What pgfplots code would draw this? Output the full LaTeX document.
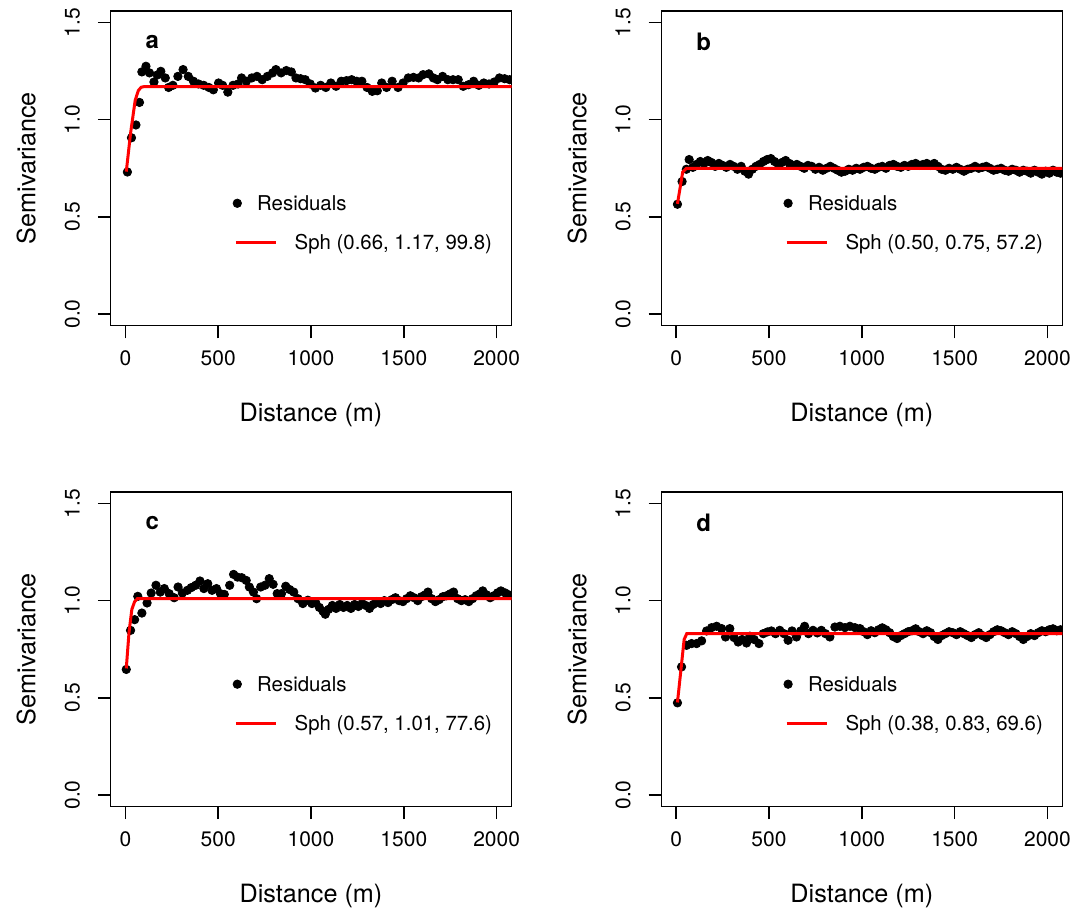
\documentclass[border=0pt]{standalone}
\usepackage{pgfplots}
\pgfplotsset{compat=1.18}
\usepackage{fontspec}
\setmainfont{TeX Gyre Heros}

% residual semivariances, one table per panel
\pgfplotstableread{
x y
11 0.731
33 0.907
57 0.973
76 1.089
89 1.246
111 1.275
130 1.241
154 1.194
172 1.230
191 1.249
215 1.215
233 1.166
256 1.177
283 1.223
311 1.258
339 1.223
367 1.198
394 1.184
422 1.177
450 1.166
474 1.154
502 1.189
524 1.177
552 1.142
580 1.177
607 1.184
626 1.215
652 1.198
681 1.215
709 1.223
737 1.206
765 1.223
793 1.241
811 1.258
839 1.241
867 1.253
894 1.246
919 1.215
944 1.211
969 1.206
996 1.184
1024 1.163
1052 1.177
1080 1.166
1107 1.189
1135 1.172
1163 1.198
1191 1.201
1219 1.206
1246 1.198
1274 1.198
1302 1.166
1330 1.146
1357 1.149
1381 1.189
1407 1.166
1437 1.198
1469 1.166
1496 1.189
1524 1.215
1552 1.218
1580 1.215
1604 1.232
1635 1.236
1659 1.215
1681 1.206
1709 1.223
1737 1.206
1765 1.206
1793 1.206
1820 1.172
1848 1.180
1876 1.198
1904 1.177
1931 1.189
1959 1.184
1987 1.194
2015 1.215
2043 1.211
2070 1.206
}\resa

\pgfplotstableread{
x y
7 0.565
32 0.682
55 0.745
70 0.795
90 0.755
110 0.770
130 0.785
150 0.775
170 0.790
190 0.780
210 0.760
230 0.775
250 0.765
270 0.755
290 0.770
310 0.760
330 0.745
350 0.760
370 0.735
390 0.720
410 0.745
430 0.760
450 0.770
470 0.785
490 0.795
510 0.800
530 0.785
550 0.770
570 0.780
590 0.790
610 0.775
630 0.765
650 0.770
670 0.760
690 0.750
710 0.765
730 0.760
750 0.745
770 0.755
790 0.740
810 0.750
830 0.760
850 0.750
870 0.740
890 0.730
910 0.735
930 0.745
950 0.740
970 0.750
990 0.745
1010 0.755
1030 0.760
1050 0.750
1070 0.745
1090 0.755
1110 0.760
1130 0.750
1150 0.765
1170 0.770
1190 0.760
1210 0.755
1230 0.765
1250 0.760
1270 0.770
1290 0.775
1310 0.765
1330 0.770
1350 0.775
1370 0.765
1390 0.775
1410 0.760
1430 0.745
1450 0.740
1470 0.750
1490 0.745
1510 0.755
1530 0.745
1550 0.735
1570 0.745
1590 0.750
1610 0.760
1630 0.750
1650 0.755
1670 0.760
1690 0.750
1710 0.740
1730 0.745
1750 0.750
1770 0.740
1790 0.735
1810 0.745
1830 0.740
1850 0.730
1870 0.740
1890 0.735
1910 0.725
1930 0.740
1950 0.730
1970 0.720
1990 0.735
2010 0.725
2030 0.740
2050 0.730
2070 0.725
}\resb

\pgfplotstableread{
x y
5 0.646
28 0.847
50 0.902
67 1.022
89 0.936
117 0.988
139 1.039
165 1.079
188 1.044
210 1.062
236 1.036
263 1.015
284 1.070
307 1.039
334 1.053
355 1.067
379 1.079
402 1.101
423 1.062
444 1.087
467 1.053
491 1.062
512 1.036
533 1.032
562 1.079
583 1.135
604 1.121
627 1.118
651 1.104
668 1.070
690 1.044
707 1.010
729 1.070
752 1.079
775 1.113
796 1.084
818 1.036
841 1.036
864 1.074
885 1.057
907 1.044
930 1.010
956 0.985
983 1.002
1005 0.985
1025 0.990
1045 0.965
1065 0.945
1077 0.930
1095 0.955
1115 0.975
1135 0.960
1155 0.980
1175 0.965
1195 0.975
1215 0.960
1235 0.980
1255 0.970
1275 0.985
1295 0.975
1315 0.960
1335 0.980
1355 0.995
1375 0.985
1395 1.000
1415 0.990
1435 1.005
1455 1.015
1475 1.000
1495 0.995
1515 1.010
1535 1.025
1555 1.015
1575 1.000
1595 1.020
1615 1.030
1630 1.044
1650 1.010
1670 0.995
1690 1.005
1710 1.020
1730 1.025
1750 1.035
1768 1.044
1790 1.010
1810 1.000
1830 1.005
1850 0.995
1870 1.010
1890 1.025
1910 1.035
1925 1.050
1945 1.030
1965 1.015
1985 1.025
2005 1.040
2023 1.050
2045 1.040
2065 1.030
}\resc

\pgfplotstableread{
x y
7 0.474
29 0.659
56 0.770
83 0.779
110 0.779
137 0.793
164 0.844
191 0.861
218 0.868
245 0.856
266 0.813
289 0.856
312 0.810
334 0.787
355 0.800
379 0.782
397 0.817
420 0.800
446 0.779
469 0.830
492 0.839
513 0.844
535 0.830
558 0.847
581 0.830
603 0.796
624 0.844
648 0.813
671 0.844
692 0.868
713 0.830
737 0.847
760 0.834
782 0.847
804 0.830
828 0.813
855 0.864
882 0.868
909 0.861
936 0.868
963 0.861
990 0.856
1010 0.840
1030 0.825
1050 0.845
1070 0.835
1090 0.850
1110 0.860
1130 0.850
1150 0.835
1170 0.815
1190 0.805
1210 0.820
1230 0.830
1250 0.840
1270 0.845
1290 0.855
1310 0.840
1330 0.830
1350 0.845
1370 0.835
1390 0.815
1410 0.800
1430 0.820
1450 0.830
1470 0.840
1490 0.835
1510 0.825
1530 0.840
1550 0.830
1570 0.820
1590 0.810
1610 0.825
1630 0.835
1650 0.820
1670 0.810
1690 0.825
1710 0.840
1730 0.850
1750 0.845
1770 0.835
1790 0.825
1810 0.840
1830 0.830
1850 0.815
1870 0.800
1890 0.815
1910 0.830
1930 0.820
1950 0.835
1970 0.845
1990 0.840
2010 0.850
2030 0.855
2050 0.845
2070 0.850
}\resd

\pgfplotsset{
  vario/.style={
    scale only axis, width=200.5pt, height=157.4pt,
    xmin=-80, xmax=2080, ymin=-0.06, ymax=1.56,
    xtick={0,500,1000,1500,2000}, xticklabels={0,500,1000,1500,2000},
    ytick={0,0.5,1,1.5}, yticklabels={0.0,0.5,1.0,1.5},
    tick align=outside, tick pos=left,
    major tick length=6.3pt,
    axis line style={line width=0.75pt},
    every tick/.style={line width=0.75pt, black},
    ticklabel style={font=\fontsize{10.5}{12}\selectfont},
    yticklabel style={rotate=90, anchor=south},
    xticklabel shift=2.5pt, yticklabel shift=5.5pt,
    xlabel={Distance (m)}, ylabel={Semivariance},
    label style={font=\fontsize{12.6}{14}\selectfont},
    xlabel style={at={(axis description cs:0.5,-0.283)}, anchor=center},
    ylabel style={at={(axis description cs:-0.21,0.5)}, anchor=center},
    clip marker paths=true,
  },
  resid/.style={only marks, mark=*, mark size=2.1pt, black},
  sph/.style={red, line width=1.5pt},
}

\newcommand{\legendbits}[1]{%
  \addplot[resid] coordinates {(603,0.57)};
  \addplot[sph] coordinates {(595,0.37)(812,0.37)};
  \node[anchor=base west, inner sep=0pt, font=\fontsize{10.2}{12}\selectfont] at (axis cs:708,0.532) {Residuals};
  \node[anchor=base west, inner sep=0pt, font=\fontsize{10.2}{12}\selectfont] at (axis cs:910,0.332) {#1};
}

\begin{document}
\begin{tikzpicture}
\path (0,0) rectangle (539.5pt,455pt);

\begin{axis}[vario, at={(55.25pt,292.15pt)}]
  \addplot[resid] table {\resa};
  \addplot[sph] coordinates {(5,0.733)(28,0.93)(53,1.10)(70,1.15)(85,1.167)(100,1.17)(2080,1.17)};
  \node[font=\fontsize{12}{14}\selectfont\bfseries] at (axis cs:145,1.40) {a};
  \legendbits{Sph (0.66, 1.17, 99.8)}
\end{axis}

\begin{axis}[vario, at={(330.65pt,292.15pt)}]
  \addplot[resid] table {\resb};
  \addplot[sph] coordinates {(7,0.567)(35,0.73)(55,0.75)(2080,0.75)};
  \node[font=\fontsize{12}{14}\selectfont\bfseries] at (axis cs:148,1.40) {b};
  \legendbits{Sph (0.50, 0.75, 57.2)}
\end{axis}

\begin{axis}[vario, at={(55.25pt,51.7pt)}]
  \addplot[resid] table {\resc};
  \addplot[sph] coordinates {(5,0.651)(20,0.84)(35,0.955)(50,0.995)(65,1.01)(2080,1.01)};
  \node[font=\fontsize{12}{14}\selectfont\bfseries] at (axis cs:145,1.40) {c};
  \legendbits{Sph (0.57, 1.01, 77.6)}
\end{axis}

\begin{axis}[vario, at={(330.65pt,51.7pt)}]
  \addplot[resid] table {\resd};
  \addplot[sph] coordinates {(7,0.476)(43,0.80)(57,0.83)(2080,0.83)};
  \node[font=\fontsize{12}{14}\selectfont\bfseries] at (axis cs:148,1.40) {d};
  \legendbits{Sph (0.38, 0.83, 69.6)}
\end{axis}
\end{tikzpicture}
\end{document}
